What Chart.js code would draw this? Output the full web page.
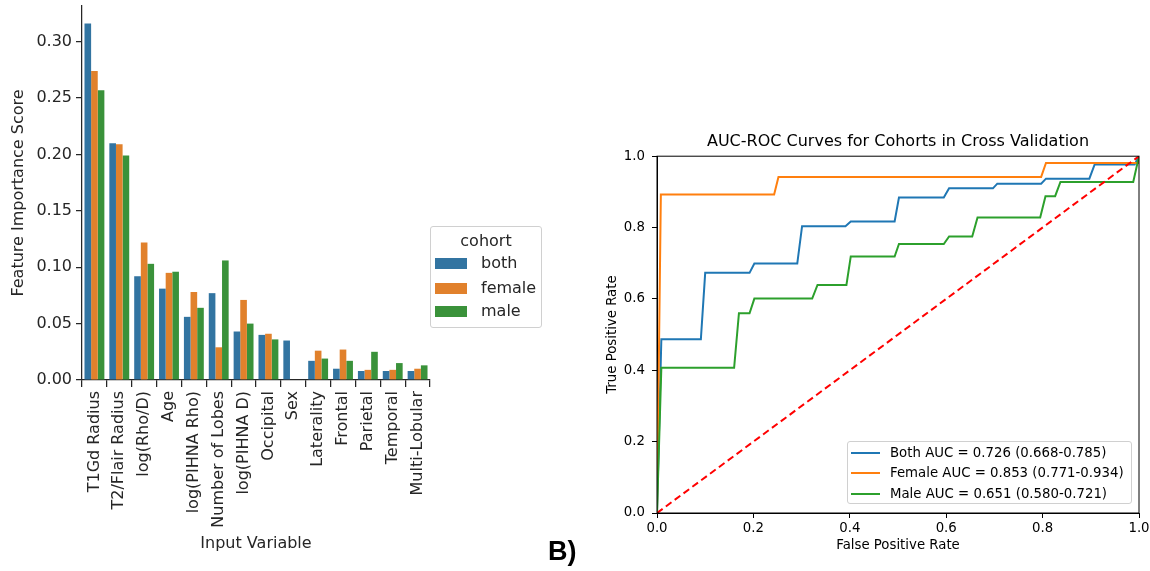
<!DOCTYPE html>
<html>
<head>
<meta charset="utf-8">
<script src="https://cdn.jsdelivr.net/npm/chart.js@4.4.1/dist/chart.umd.min.js"></script>
<style>
  body { margin: 0; background: #fff; font-family: "DejaVu Sans", sans-serif; }
  #wrap { position: relative; width: 1150px; height: 571px; overflow: hidden; }
  #barChart { position: absolute; left: 0; top: 0; }
  #rocChart { position: absolute; left: 560px; top: 120px; }
  .legend { position: absolute; background: #fff; border: 1px solid #d0d0d0; border-radius: 3px; box-sizing: border-box; }
  #cohortLegend { left: 430px; top: 226px; width: 112px; height: 102px; color: #262626; font-size: 16px; }
  #cohortLegend .ttl { position: absolute; left: 0; width: 100%; top: 4px; text-align: center; }
  #cohortLegend .row { position: absolute; left: 4px; height: 20px; line-height: 20px; }
  #cohortLegend .sw { display: inline-block; width: 32px; height: 11px; vertical-align: middle; margin-right: 14px; }
  #rocLegend { left: 847px; top: 441px; width: 285px; height: 63px; color: #000; font-size: 13.3px; }
  #rocLegend .row { position: absolute; left: 3px; height: 20px; line-height: 20px; }
  #rocLegend .ln { display: inline-block; width: 29px; height: 2px; vertical-align: middle; margin-right: 10px; }
  #panelB { position: absolute; left: 548px; top: 536px; font-family: "Liberation Sans", Arial, sans-serif; font-weight: bold; font-size: 27px; color: #000; }
</style>
</head>
<body>
<div id="wrap">
  <canvas id="barChart" width="440" height="571"></canvas>
  <canvas id="rocChart" width="590" height="451"></canvas>
  <div id="cohortLegend" class="legend"></div>
  <div id="rocLegend" class="legend"></div>
  <div id="panelB">B)</div>
</div>
<script>
// feature importance per cohort
var features = ['T1Gd Radius', 'T2/Flair Radius', 'log(Rho/D)', 'Age', 'log(PIHNA Rho)', 'Number of Lobes',
  'log(PIHNA D)', 'Occipital', 'Sex', 'Laterality', 'Frontal', 'Parietal', 'Temporal', 'Multi-Lobular'];
var bothScore   = [0.316, 0.210, 0.092, 0.081, 0.056, 0.077, 0.043, 0.040, 0.035, 0.017, 0.010, 0.008, 0.008, 0.008];
var femaleScore = [0.274, 0.209, 0.122, 0.095, 0.078, 0.029, 0.071, 0.041, null, 0.026, 0.027, 0.009, 0.009, 0.010];
var maleScore   = [0.257, 0.199, 0.103, 0.096, 0.064, 0.106, 0.050, 0.036, null, 0.019, 0.017, 0.025, 0.015, 0.013];
var cohorts = ['both', 'female', 'male'];
var barColors = ['#3274a1', '#e1812c', '#3a923a'];

// ROC curves
var bothFpr = [0, 0.009, 0.091, 0.100, 0.192, 0.202, 0.291, 0.301, 0.391, 0.402, 0.493, 0.502, 0.595, 0.606, 0.697, 0.706, 0.797, 0.807, 0.897, 0.908, 0.991, 1.0];
var bothTpr = [0, 0.487, 0.487, 0.673, 0.673, 0.699, 0.699, 0.804, 0.804, 0.817, 0.817, 0.884, 0.884, 0.910, 0.910, 0.923, 0.923, 0.937, 0.937, 0.977, 0.977, 1.0];
var femaleFpr = [0, 0.008, 0.243, 0.252, 0.797, 0.807, 1.0, 1.0];
var femaleTpr = [0, 0.893, 0.893, 0.942, 0.942, 0.981, 0.981, 1.0];
var maleFpr = [0, 0.009, 0.160, 0.170, 0.192, 0.202, 0.322, 0.333, 0.393, 0.402, 0.493, 0.502, 0.595, 0.606, 0.654, 0.665, 0.795, 0.806, 0.826, 0.837, 0.988, 1.0];
var maleTpr = [0, 0.407, 0.407, 0.560, 0.560, 0.601, 0.601, 0.639, 0.639, 0.719, 0.719, 0.754, 0.754, 0.775, 0.775, 0.828, 0.828, 0.888, 0.888, 0.928, 0.928, 1.0];
var chanceLine = [0, 1];
var rocLabels = ['Both AUC = 0.726 (0.668-0.785)', 'Female AUC = 0.853 (0.771-0.934)', 'Male AUC = 0.651 (0.580-0.721)'];
var rocColors = ['#1f77b4', '#ff7f0e', '#2ca02c'];

var dark = '#262626';
var fam = 'DejaVu Sans';

function toPoints(xs, ys) {
  var pts = [];
  for (var i = 0; i < xs.length; i++) pts.push({x: xs[i], y: ys[i]});
  return pts;
}

// fixed axis sizes, no extra label overflow padding
function fixX(h) {
  return function(s) { s.height = h; s.paddingLeft = 0; s.paddingRight = 0; };
}
function fixY(w) {
  return function(s) { s.width = w; s.paddingTop = 0; s.paddingBottom = 0; };
}

var barChart = new Chart(document.getElementById('barChart'), {
  type: 'bar',
  data: {
    labels: features,
    datasets: [
      {label: 'both', data: bothScore, backgroundColor: barColors[0]},
      {label: 'female', data: femaleScore, backgroundColor: barColors[1]},
      {label: 'male', data: maleScore, backgroundColor: barColors[2]}
    ]
  },
  options: {
    responsive: false,
    animation: false,
    layout: {padding: {top: 6, right: 10, left: 0, bottom: 0}},
    datasets: {bar: {categoryPercentage: 0.8, barPercentage: 1.0, borderWidth: 0}},
    plugins: {legend: {display: false}, tooltip: {enabled: false}},
    scales: {
      x: {
        offset: true,
        grid: {display: true, drawOnChartArea: false, tickLength: 7, color: dark, lineWidth: 1.25},
        border: {color: dark, width: 1.25},
        ticks: {autoSkip: false, minRotation: 90, maxRotation: 90, padding: 4, color: dark, font: {family: fam, size: 16}},
        title: {display: true, text: 'Input Variable', color: dark, font: {family: fam, size: 16}, padding: {top: 0, bottom: 18}},
        afterFit: fixX(191)
      },
      y: {
        min: 0, max: 0.3316,
        grid: {display: true, drawOnChartArea: false, tickLength: 6, color: dark, lineWidth: 1.25},
        border: {color: dark, width: 1.25},
        ticks: {stepSize: 0.05, includeBounds: false, padding: 4, color: dark, font: {family: fam, size: 16},
          callback: function(v) { return v.toFixed(2); }},
        title: {display: true, text: 'Feature Importance Score', color: dark, font: {family: fam, size: 16}, padding: {top: 9, bottom: 0}},
        afterFit: fixY(82)
      }
    }
  }
});

var framePlugin = {
  id: 'frame',
  afterDatasetsDraw: function(chart) {
    var a = chart.chartArea, c = chart.ctx;
    c.save();
    c.strokeStyle = '#000';
    c.lineWidth = 1;
    c.strokeRect(a.left, a.top, a.right - a.left, a.bottom - a.top);
    c.restore();
  }
};

var rocChart = new Chart(document.getElementById('rocChart'), {
  type: 'line',
  data: {
    datasets: [
      {label: rocLabels[0], data: toPoints(bothFpr, bothTpr), borderColor: rocColors[0], order: 4},
      {label: rocLabels[1], data: toPoints(femaleFpr, femaleTpr), borderColor: rocColors[1], order: 3},
      {label: rocLabels[2], data: toPoints(maleFpr, maleTpr), borderColor: rocColors[2], order: 2},
      {label: 'chance', data: toPoints(chanceLine, chanceLine), borderColor: '#ff0000', borderDash: [7, 4], order: 1}
    ]
  },
  options: {
    responsive: false,
    animation: false,
    layout: {padding: {top: 0, right: 11, left: 0, bottom: 0}},
    elements: {line: {borderWidth: 2, tension: 0, fill: false}, point: {radius: 0}},
    plugins: {
      legend: {display: false},
      tooltip: {enabled: false},
      title: {display: true, fullSize: false, text: 'AUC-ROC Curves for Cohorts in Cross Validation', color: '#000',
        font: {family: fam, size: 16, weight: 'normal'}, padding: {top: 12, bottom: 5}}
    },
    scales: {
      x: {
        type: 'linear', min: 0, max: 1,
        grid: {display: true, drawOnChartArea: false, tickLength: 5, color: '#000'},
        border: {color: '#000'},
        ticks: {stepSize: 0.2, padding: 3, color: '#000', font: {family: fam, size: 13.3},
          callback: function(v) { return v.toFixed(1); }},
        title: {display: true, text: 'False Positive Rate', color: '#000', font: {family: fam, size: 13.3}, padding: {top: 0, bottom: 17}},
        afterFit: fixX(58)
      },
      y: {
        type: 'linear', min: 0, max: 1,
        grid: {display: true, drawOnChartArea: false, tickLength: 5, color: '#000'},
        border: {color: '#000'},
        ticks: {stepSize: 0.2, padding: 7, color: '#000', font: {family: fam, size: 13.3},
          callback: function(v) { return v.toFixed(1); }},
        title: {display: true, text: 'True Positive Rate', color: '#000', font: {family: fam, size: 13.3}, padding: {top: 45, bottom: 0}},
        afterFit: fixY(97)
      }
    }
  },
  plugins: [framePlugin]
});

// legends as html
var cl = document.getElementById('cohortLegend');
var t = document.createElement('div');
t.className = 'ttl';
t.textContent = 'cohort';
cl.appendChild(t);
var rowTops = [26, 51, 74];
for (var i = 0; i < cohorts.length; i++) {
  var r = document.createElement('div');
  r.className = 'row';
  r.style.top = rowTops[i] + 'px';
  r.innerHTML = '<span class="sw" style="background:' + barColors[i] + '"></span>' + cohorts[i];
  cl.appendChild(r);
}
var rl = document.getElementById('rocLegend');
var rocTops = [1, 21, 42];
for (var j = 0; j < rocLabels.length; j++) {
  var rr = document.createElement('div');
  rr.className = 'row';
  rr.style.top = rocTops[j] + 'px';
  rr.innerHTML = '<span class="ln" style="background:' + rocColors[j] + '"></span>' + rocLabels[j];
  rl.appendChild(rr);
}
</script>
</body>
</html>
